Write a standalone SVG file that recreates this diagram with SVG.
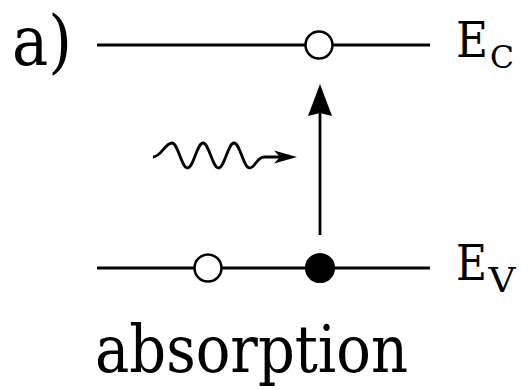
<svg xmlns="http://www.w3.org/2000/svg" width="521" height="390" viewBox="0 0 521 390">
<style>
.lvl{stroke:#000;stroke-width:2.8;fill:none}
.st{fill:#000;stroke:none}
.hole{fill:#fff;stroke:#000;stroke-width:2.5}
.el{fill:#000;stroke:#000;stroke-width:2.5}
</style>
<rect width="521" height="390" fill="#fff"/>
<g font-family="'DejaVu Serif', 'Liberation Serif', serif" fill="#000">
<g id="label-a"><text x="12" y="65" font-size="69" textLength="60" lengthAdjust="spacingAndGlyphs">a)</text></g>
<g id="level-ec">
<line class="lvl" x1="97" y1="45" x2="430" y2="45"/>
<text x="456" y="57" font-size="49" textLength="32" lengthAdjust="spacingAndGlyphs">E</text>
<text x="490" y="68" font-size="32" textLength="24" lengthAdjust="spacingAndGlyphs">C</text>
</g>
<g id="level-ev">
<line class="lvl" x1="97" y1="268" x2="430" y2="268"/>
<text x="456" y="280" font-size="49" textLength="31" lengthAdjust="spacingAndGlyphs">E</text>
<text x="488.5" y="292" font-size="33" textLength="27" lengthAdjust="spacingAndGlyphs">V</text>
</g>
<g id="caption"><text x="95" y="372" font-size="66" textLength="313" lengthAdjust="spacingAndGlyphs">absorption</text></g>
</g>
<g id="connectors">
<line class="lvl" x1="320" y1="235" x2="320" y2="110"/>
<polygon class="st" points="320,84 332,116 320,113 308,116"/>
<path class="lvl" stroke-width="2.6" d="M153,157 C161,157 165,143 172,143 C178,143 181.5,168 187.5,168 C193.5,168 197,143 203,143 C209,143 212.5,168 218.5,168 C224.5,168 228,143 234,143 C240,143 243.5,168 249.5,168 C255,168 257,157 264,157 L286,157"/>
<polygon class="st" points="297,157 274,150.5 280,157 274,163.5"/>
</g>
<g id="hole-top"><circle class="hole" cx="319" cy="45" r="13.5"/></g>
<g id="hole-bottom"><circle class="hole" cx="208" cy="268" r="13.5"/></g>
<g id="electron"><circle class="el" cx="320" cy="268" r="13.8"/></g>
</svg>
